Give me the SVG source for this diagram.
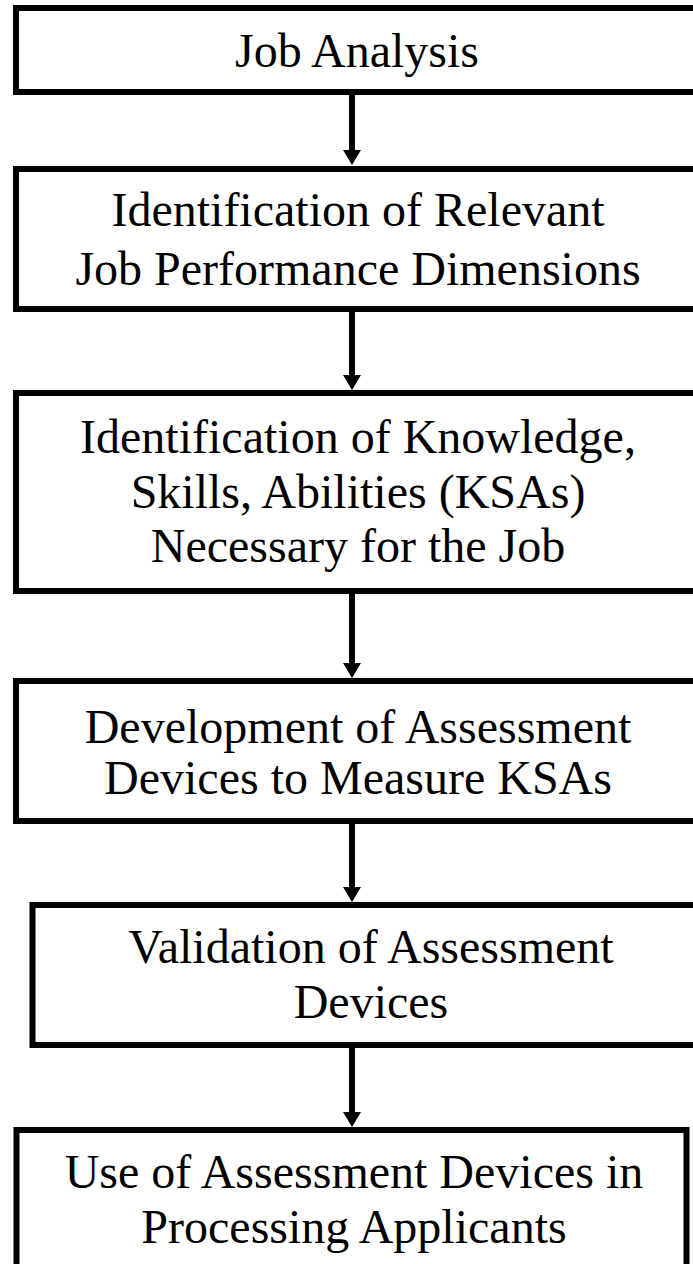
<svg xmlns="http://www.w3.org/2000/svg" width="693" height="1264" viewBox="0 0 693 1264">
<style>
.box{fill:#fff;stroke:#000;stroke-width:6}
.lbl{font-family:"Liberation Serif","Times New Roman",serif;font-size:48px;fill:#000;text-anchor:middle}
.conn{stroke:#000;stroke-width:6;fill:none}
</style>
<defs>
<marker id="ah" markerUnits="userSpaceOnUse" markerWidth="15" markerHeight="18" viewBox="0 0 15 18" refX="3" refY="9" orient="auto">
<path d="M0,0 L15,9 L0,18 z" fill="#000"/>
</marker>
</defs>
<rect width="693" height="1264" fill="#fff"/>
<g id="connectors">
<line class="conn" x1="352" y1="92" x2="352" y2="153" marker-end="url(#ah)"/>
<line class="conn" x1="352" y1="309" x2="352" y2="378" marker-end="url(#ah)"/>
<line class="conn" x1="352" y1="591" x2="352" y2="666" marker-end="url(#ah)"/>
<line class="conn" x1="352" y1="821" x2="352" y2="890" marker-end="url(#ah)"/>
<line class="conn" x1="352" y1="1045" x2="352" y2="1115" marker-end="url(#ah)"/>
</g>
<g id="n1">
<rect class="box" x="16" y="8" width="684" height="84"/>
<text class="lbl" x="357" y="67">Job Analysis</text>
</g>
<g id="n2">
<rect class="box" x="16" y="169" width="684" height="140"/>
<text class="lbl" x="358" y="226">Identification of Relevant</text>
<text class="lbl" x="358" y="285">Job Performance Dimensions</text>
</g>
<g id="n3">
<rect class="box" x="16" y="393" width="684" height="198"/>
<text class="lbl" x="358" y="453">Identification of Knowledge,</text>
<text class="lbl" x="358" y="508">Skills, Abilities (KSAs)</text>
<text class="lbl" x="358" y="562">Necessary for the Job</text>
</g>
<g id="n4">
<rect class="box" x="16" y="681" width="684" height="140"/>
<text class="lbl" x="358" y="743">Development of Assessment</text>
<text class="lbl" x="358" y="794">Devices to Measure KSAs</text>
</g>
<g id="n5">
<rect class="box" x="32.5" y="905" width="676" height="140"/>
<text class="lbl" x="371" y="963">Validation of Assessment</text>
<text class="lbl" x="371" y="1018">Devices</text>
</g>
<g id="n6">
<rect class="box" x="16.5" y="1130" width="670" height="140"/>
<text class="lbl" x="354" y="1188">Use of Assessment Devices in</text>
<text class="lbl" x="354" y="1243">Processing Applicants</text>
</g>
</svg>
